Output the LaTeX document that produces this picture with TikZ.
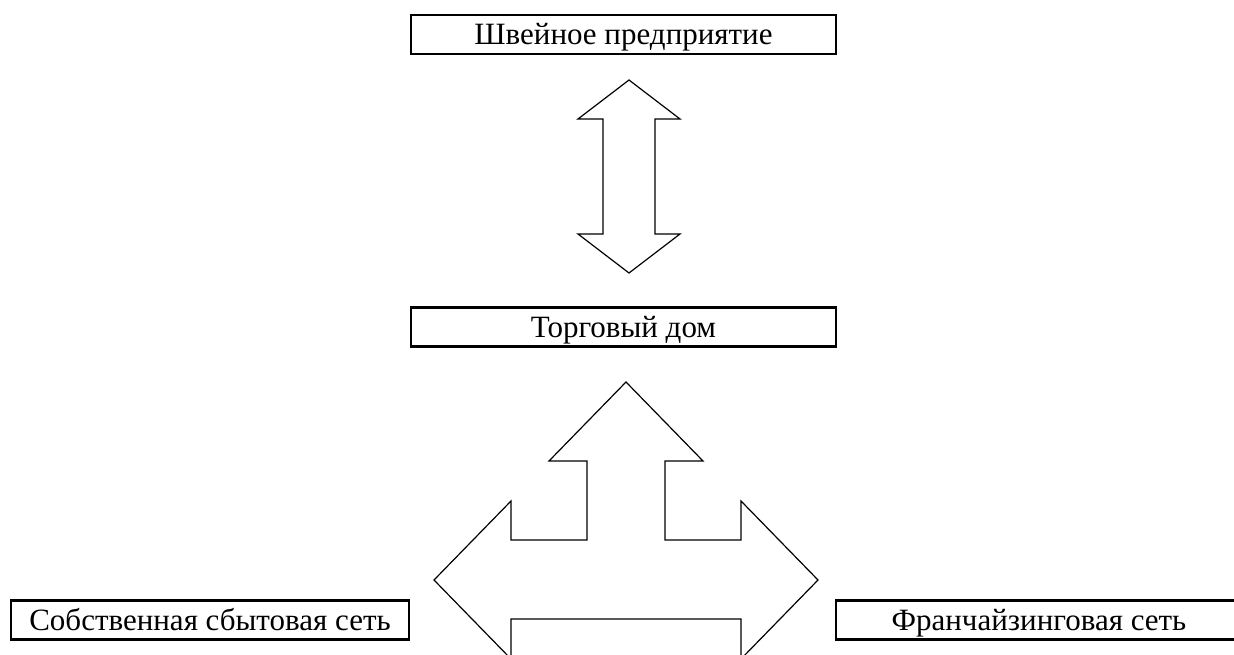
\documentclass[tikz,border=0pt]{standalone}
\usepackage{fontspec}
\setmainfont{Liberation Serif}
\begin{document}
\begin{tikzpicture}[x=1pt,y=-1pt,
  labelbox/.style={draw,line width=2.2pt,rectangle,inner sep=0pt,minimum height=39pt,
    text height=21pt,text depth=0pt,font=\fontsize{31}{36}\selectfont},
  blockarrow/.style={draw,line width=1.2pt,line join=miter}]
\useasboundingbox (0,0) rectangle (1234,655);
\clip (0,0) rectangle (1234,655);
\node[labelbox,minimum width=425pt] (shv) at (623.5,34.5) {Швейное предприятие};
\node[labelbox,minimum width=425pt] (td) at (623.5,327) {Торговый дом};
\node[labelbox,minimum width=398pt] (own) at (210,620) {Собственная сбытовая сеть};
\node[labelbox,minimum width=406pt] (fr) at (1039,620) {Франчайзинговая сеть};
% double vertical arrow
\draw[blockarrow] (629,80) -- (680,119) -- (655,119) -- (655,234) -- (680,234) -- (629,273)
  -- (578,234) -- (603,234) -- (603,119) -- (578,119) -- cycle;
% three-way arrow
\draw[blockarrow] (434,580) -- (511,501) -- (511,540) -- (587,540) -- (587,461) -- (549,461)
  -- (626,382) -- (703,461) -- (665,461) -- (665,540) -- (741,540) -- (741,501)
  -- (818,580) -- (741,659) -- (741,619) -- (511,619) -- (511,659) -- cycle;
\end{tikzpicture}
\end{document}
